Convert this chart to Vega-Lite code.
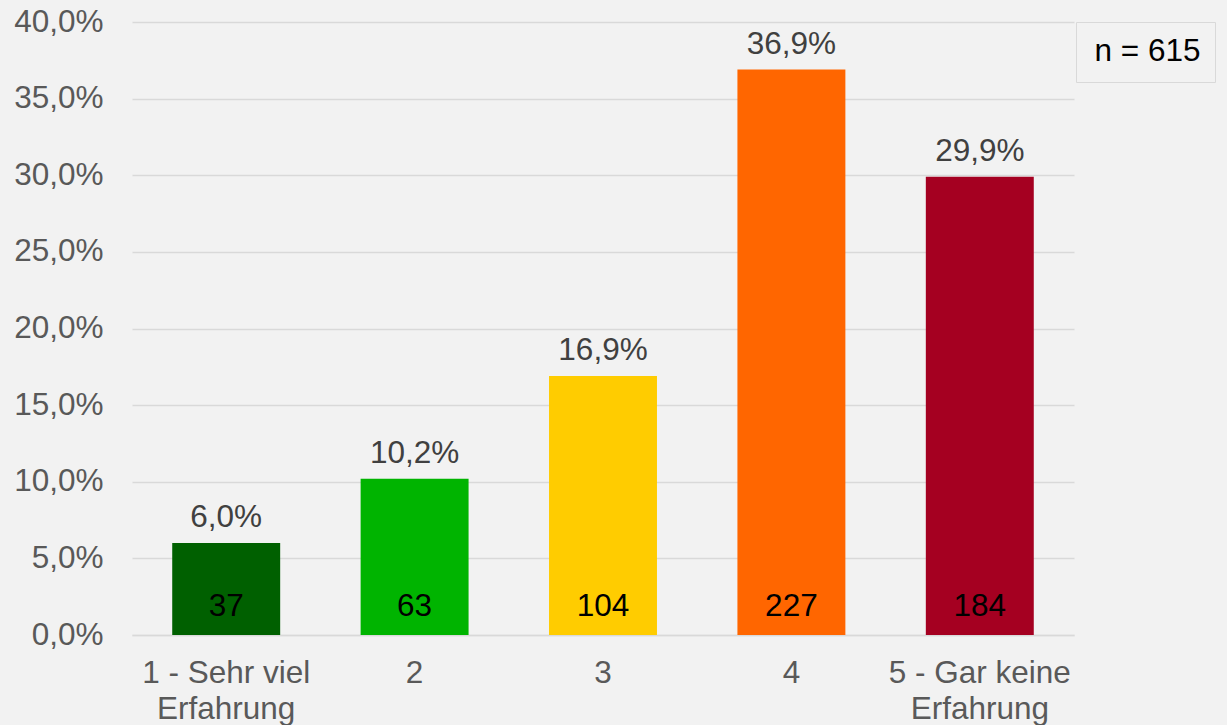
{
  "$schema": "https://vega.github.io/schema/vega-lite/v6.json",
  "width": 942,
  "height": 613,
  "autosize": "none",
  "padding": {"left": 132, "top": 22, "right": 153, "bottom": 90},
  "background": "#f2f2f2",
  "config": {
    "locale": {"number": {"decimal": ",", "thousands": ".", "grouping": [3], "currency": ["", " €"]}},
    "view": {"stroke": null},
    "font": "Liberation Sans",
    "axis": {"labelFont": "Liberation Sans", "labelFontSize": 31.5, "labelColor": "#595959", "title": null}
  },
  "data": {
    "values": [
      {"cat": "1 - Sehr viel Erfahrung", "pct": 0.060, "n": 37},
      {"cat": "2", "pct": 0.102, "n": 63},
      {"cat": "3", "pct": 0.169, "n": 104},
      {"cat": "4", "pct": 0.369, "n": 227},
      {"cat": "5 - Gar keine Erfahrung", "pct": 0.299, "n": 184}
    ]
  },
  "encoding": {
    "x": {
      "field": "cat", "type": "nominal", "sort": null,
      "scale": {"paddingInner": 0.427, "paddingOuter": 0.2135},
      "axis": {
        "labelAngle": 0, "domain": true, "domainColor": "#d9d9d9", "domainWidth": 1.5, "ticks": false, "tickSize": 0,
        "labelPadding": 22, "labelLineHeight": 36, "labelBaseline": "top", "labelLimit": 400,
        "labelExpr": "datum.value == '1 - Sehr viel Erfahrung' ? ['1 - Sehr viel', 'Erfahrung'] : datum.value == '5 - Gar keine Erfahrung' ? ['5 - Gar keine', 'Erfahrung'] : datum.value"
      }
    }
  },
  "layer": [
    {
      "mark": {"type": "bar"},
      "encoding": {
        "y": {
          "field": "pct", "type": "quantitative",
          "scale": {"domain": [0, 0.4], "nice": false},
          "axis": {
            "values": [0, 0.05, 0.1, 0.15, 0.2, 0.25, 0.3, 0.35, 0.4],
            "format": ".1%", "domain": false, "ticks": false, "tickSize": 0, "labelPadding": 29,
            "grid": true, "gridColor": "#d9d9d9", "gridWidth": 1.5
          }
        },
        "color": {
          "field": "cat", "type": "nominal", "sort": null,
          "scale": {"range": ["#006000", "#00b400", "#ffcc00", "#ff6600", "#a50021"]},
          "legend": null
        }
      }
    },
    {
      "mark": {"type": "text", "fontSize": 31.5, "color": "#404040", "baseline": "alphabetic", "dy": -16},
      "encoding": {
        "y": {"field": "pct", "type": "quantitative"},
        "text": {"field": "pct", "type": "quantitative", "format": ".1%"}
      }
    },
    {
      "mark": {"type": "text", "fontSize": 31.5, "color": "#000000", "baseline": "alphabetic", "dy": -19},
      "encoding": {
        "y": {"datum": 0},
        "text": {"field": "n", "type": "quantitative"}
      }
    },
    {
      "mark": {"type": "point", "opacity": 0},
      "encoding": {
        "shape": {
          "datum": "n = 615",
          "legend": {
            "title": null, "orient": "none", "legendX": 944, "legendY": 0,
            "strokeColor": "#d9d9d9", "fillColor": "#f2f2f2", "padding": 14,
            "labelFontSize": 31.5, "labelColor": "#000000", "labelFont": "Liberation Sans",
            "symbolSize": 0, "symbolOpacity": 0, "symbolStrokeWidth": 0, "labelOffset": -27
          }
        }
      }
    }
  ]
}
